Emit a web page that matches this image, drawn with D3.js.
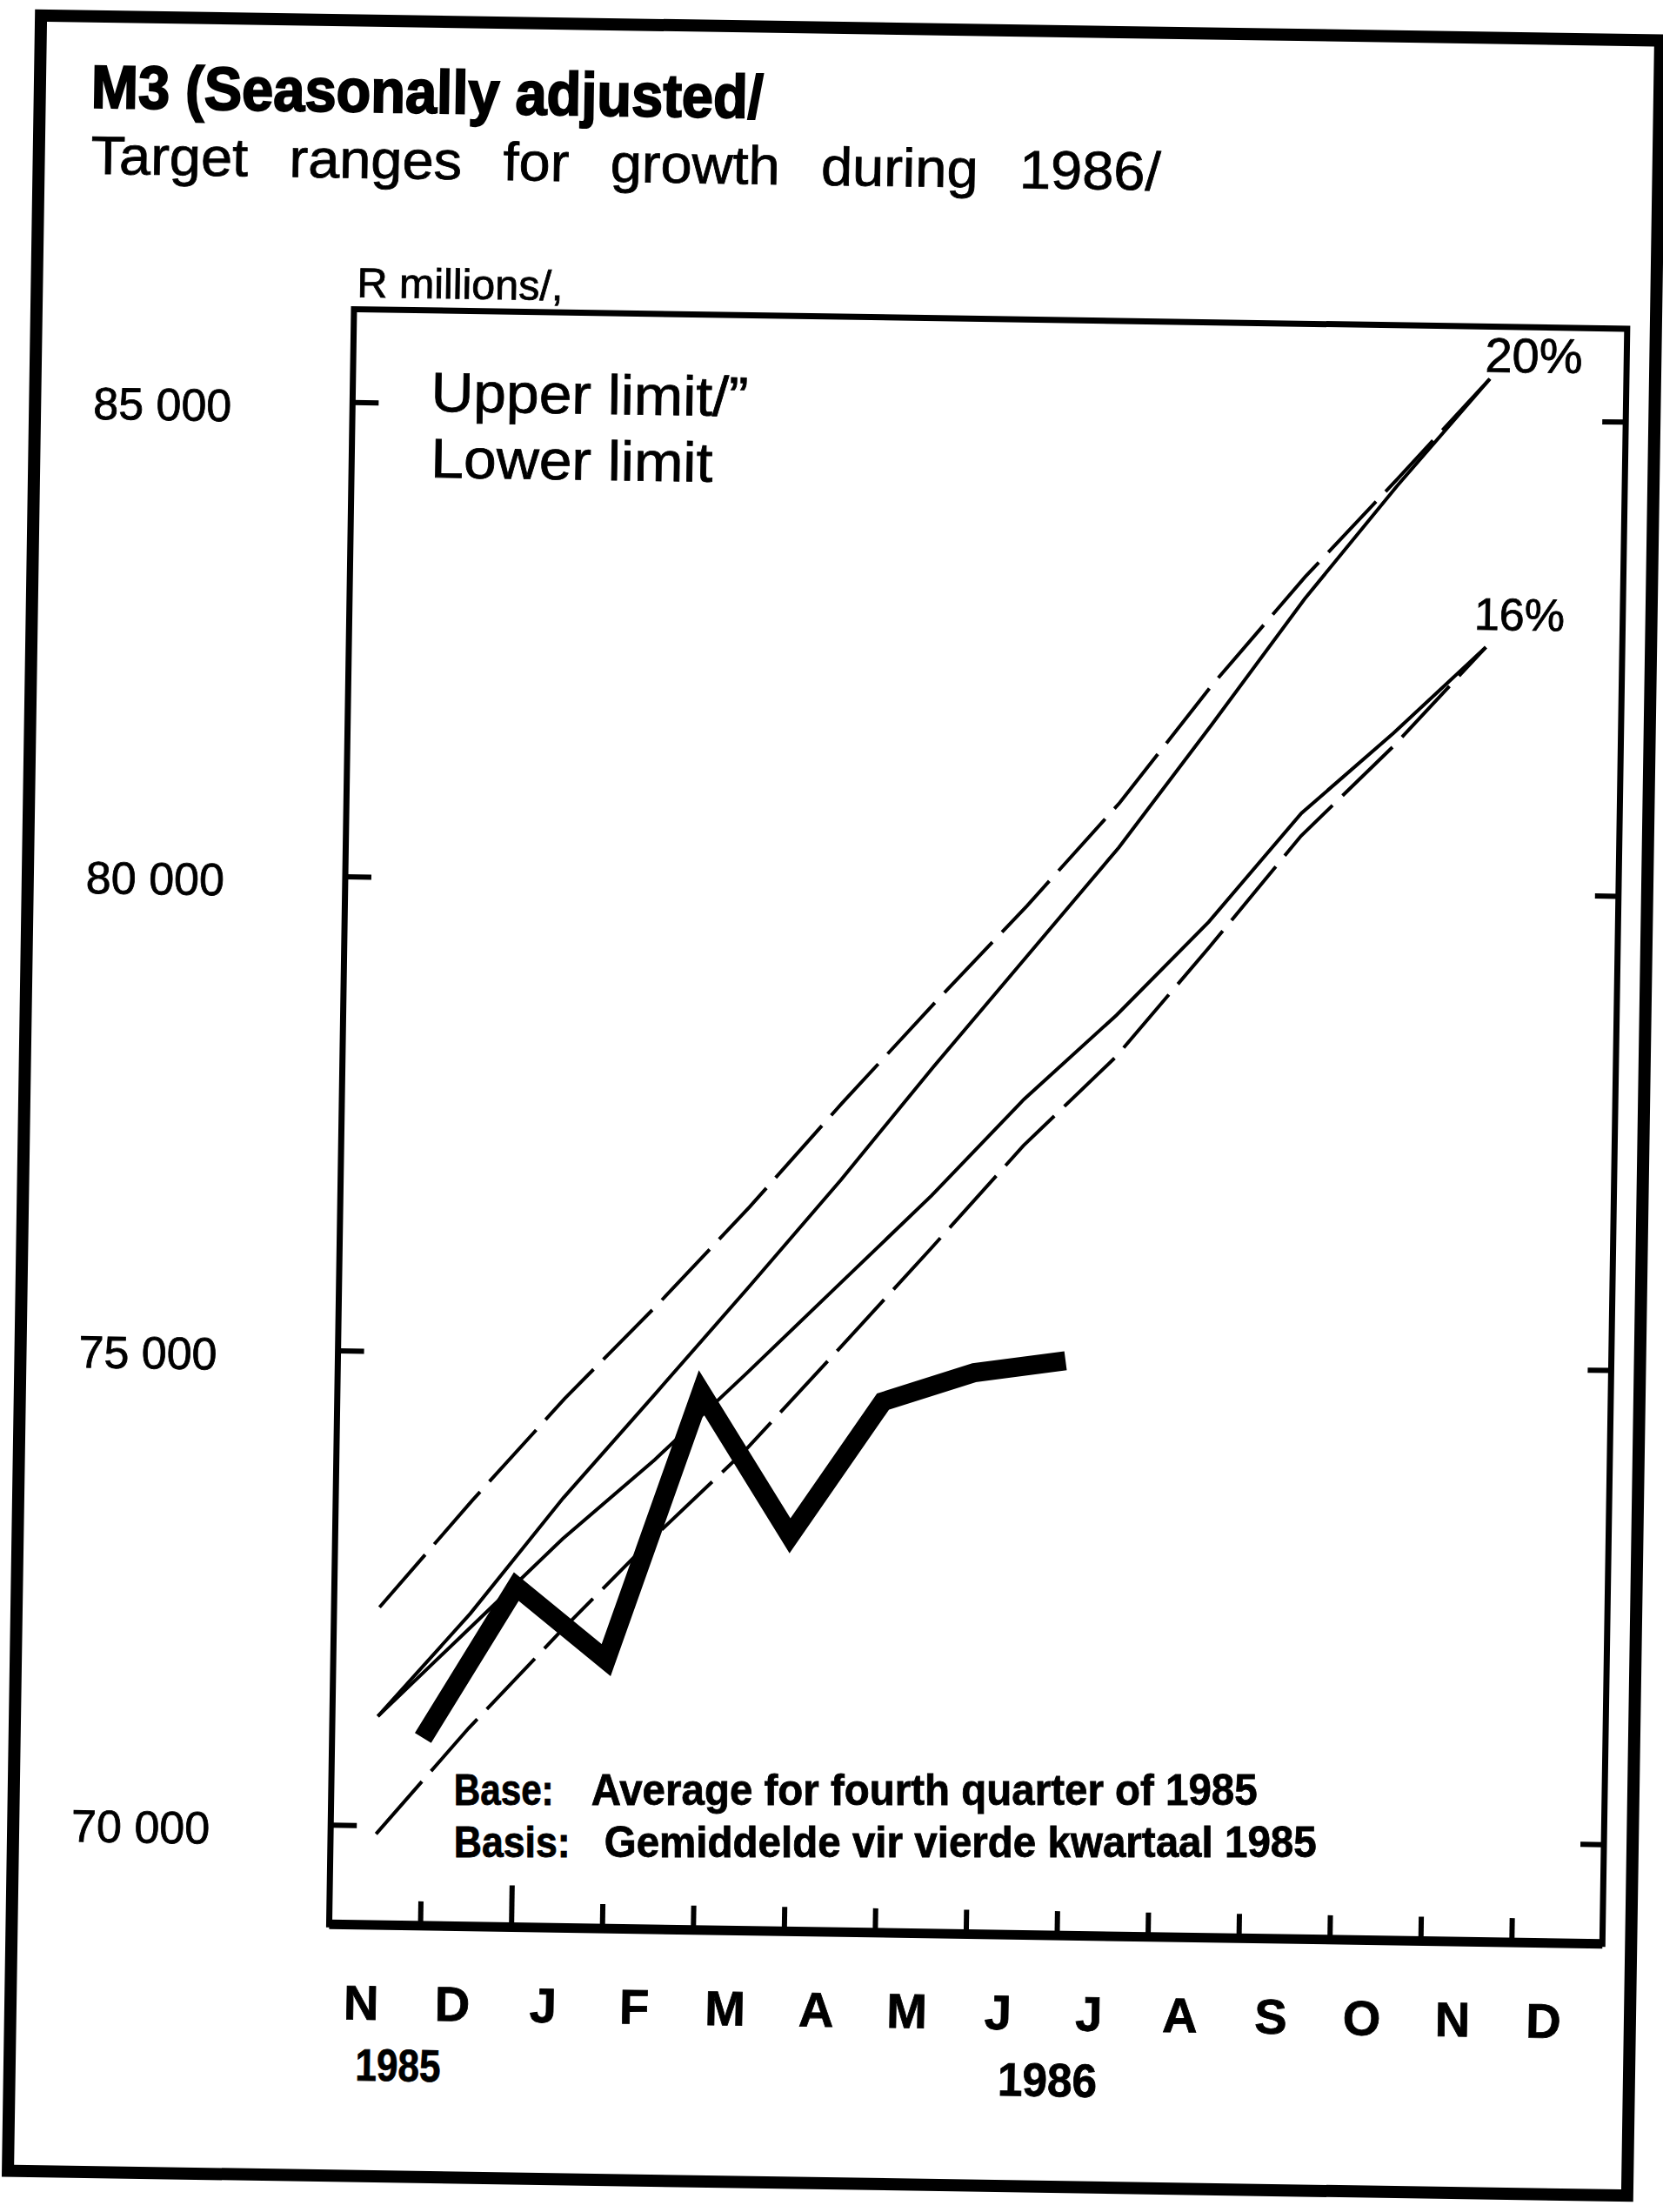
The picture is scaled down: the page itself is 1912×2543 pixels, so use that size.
<!DOCTYPE html>
<html>
<head>
<meta charset="utf-8">
<script src="https://cdn.jsdelivr.net/npm/d3@7"></script>
<style>
  body { margin: 0; background: #fff; }
  svg { display: block; }
  text { font-family: "Liberation Sans", Arial, Helvetica, sans-serif; fill: #000; stroke: #000; stroke-width: 0.8px; }
</style>
</head>
<body>
<script>
// Month labels along the bottom, Nov 1985 .. Dec 1986
const months = ["N", "D", "J", "F", "M", "A", "M", "J", "J", "A", "S", "O", "N", "D"];
const monthKeys = ["Nov 1985", "Dec 1985", "Jan 1986", "Feb 1986", "Mar 1986", "Apr 1986", "May 1986",
                   "Jun 1986", "Jul 1986", "Aug 1986", "Sep 1986", "Oct 1986", "Nov 1986", "Dec 1986"];
const yTicks = [70000, 75000, 80000, 85000];

// Target corridor, mid-month values (R millions), base = Q4 1985 average
const targetMonths = ["Nov 1985", "Dec 1985", "Jan 1986", "Feb 1986", "Mar 1986", "Apr 1986", "May 1986",
                      "Jun 1986", "Jul 1986", "Aug 1986", "Sep 1986", "Oct 1986", "Nov 1986"];
const upper20     = [71150, 72250, 73480, 74600, 75730, 76880, 78090, 79260, 80430, 81740, 83080, 84290, 85430];
const upperDashed = [72300, 73440, 74530, 75530, 76580, 77690, 78760, 79800, 80900, 82160, 83310, 84360, 85430];
const lower16     = [71150, 72100, 73050, 73900, 74830, 75780, 76730, 77760, 78660, 79660, 80820, 81680, 82600];
const lowerDashed = [69910, 71040, 72080, 73080, 74020, 75090, 76170, 77270, 78220, 79380, 80580, 81540, 82600];

// Actual M3, month-end values (R millions)
const m3Months = ["Nov 1985", "Dec 1985", "Jan 1986", "Feb 1986", "Mar 1986", "Apr 1986", "May 1986", "Jun 1986"];
const m3Values = [70930, 72540, 71780, 74620, 73120, 74550, 74870, 75010];

const W = 1912, H = 2543;
const x0 = 393, x1 = 1857, y0 = 364, y1 = 2221;

const svg = d3.select("body").append("svg")
  .attr("width", W)
  .attr("height", H);

svg.append("rect").attr("width", W).attr("height", H).attr("fill", "#fff");

// the printed page is a little tilted
const tilt = 0.88, cx = 956, cy = 1271;
const g = svg.append("g").attr("transform", `rotate(${tilt}, ${cx}, ${cy})`);
// where a point of the untilted layout ends up on the page
function tilted(px, py) {
  const a = tilt * Math.PI / 180;
  const dx = px - cx, dy = py - cy;
  return [cx + dx * Math.cos(a) - dy * Math.sin(a), cy + dx * Math.sin(a) + dy * Math.cos(a)];
}

const x = d3.scaleLinear().domain([0, months.length]).range([x0, x1]);
const y = d3.scaleLinear().domain([68950, 85980]).range([y1, y0]);

const idx = k => monthKeys.indexOf(k);

// outer frame
g.append("rect")
  .attr("x", 28).attr("y", 32)
  .attr("width", 1862).attr("height", 2478)
  .attr("fill", "none").attr("stroke", "#000").attr("stroke-width", 14);

// titles
g.append("text")
  .attr("x", 87).attr("y", 137)
  .attr("font-size", 70).attr("font-weight", "bold")
  .style("stroke-width", "2px")
  .attr("textLength", 773).attr("lengthAdjust", "spacingAndGlyphs")
  .text("M3 (Seasonally adjusted/");

g.append("text")
  .attr("x", 88).attr("y", 213)
  .attr("font-size", 62)
  .style("word-spacing", "28px")
  .attr("textLength", 1230).attr("lengthAdjust", "spacingAndGlyphs")
  .text("Target ranges for growth during 1986/");

g.append("text")
  .attr("x", 396).attr("y", 350)
  .attr("font-size", 48)
  .attr("textLength", 237).attr("lengthAdjust", "spacingAndGlyphs")
  .text("R millions/,");

// plot box
g.append("rect")
  .attr("x", x0).attr("y", y0)
  .attr("width", x1 - x0).attr("height", y1 - y0)
  .attr("fill", "none").attr("stroke", "#000").attr("stroke-width", 7);
g.append("line")
  .attr("x1", x0).attr("x2", x1).attr("y1", y1).attr("y2", y1)
  .attr("stroke", "#000").attr("stroke-width", 11);

// y axes
const fmt = d3.formatLocale({ decimal: ".", thousands: " ", grouping: [3], currency: ["", ""] }).format(",");

g.append("g")
  .attr("transform", `translate(${x0},0)`)
  .call(d3.axisLeft(y).tickValues(yTicks).tickSizeInner(-30).tickSizeOuter(0).tickPadding(139).tickFormat(fmt))
  .call(a => a.select(".domain").remove())
  .call(a => a.selectAll("line").attr("stroke", "#000").attr("stroke-width", 6))
  .call(a => a.selectAll("text").attr("font-size", 52).attr("dy", "0.45em").attr("fill", "#000"));

g.append("g")
  .attr("transform", `translate(${x1},0)`)
  .call(d3.axisRight(y).tickValues(yTicks).tickSizeInner(-27).tickSizeOuter(0).tickFormat(""))
  .call(a => a.select(".domain").remove())
  .call(a => a.selectAll("line").attr("stroke", "#000").attr("stroke-width", 6));

// x axis: month boundaries
g.append("g")
  .attr("transform", `translate(0,${y1})`)
  .call(d3.axisBottom(x).tickValues(d3.range(1, months.length)).tickSizeInner(-28).tickSizeOuter(0).tickFormat(""))
  .call(a => a.select(".domain").remove())
  .call(a => a.selectAll("line").attr("stroke", "#000").attr("stroke-width", 6))
  .call(a => a.selectAll(".tick line").filter(d => d === idx("Jan 1986")).attr("y2", -48));

g.append("g").selectAll("text")
  .data(months)
  .join("text")
  .attr("x", (d, i) => x(i + 0.5) - 14)
  .attr("y", 2330)
  .attr("text-anchor", "middle")
  .attr("font-size", 56).attr("font-weight", "bold")
  .text(d => d);

g.append("text")
  .attr("x", x(idx("Nov 1985") + 0.78)).attr("y", 2400)
  .attr("text-anchor", "middle")
  .attr("font-size", 52).attr("font-weight", "bold")
  .attr("textLength", 98).attr("lengthAdjust", "spacingAndGlyphs")
  .text("1985");
g.append("text")
  .attr("x", x(idx("Jul 1986") - 0.08)).attr("y", 2406)
  .attr("text-anchor", "middle")
  .attr("font-size", 54).attr("font-weight", "bold")
  .attr("textLength", 114).attr("lengthAdjust", "spacingAndGlyphs")
  .text("1986");

// target lines
const line = d3.line().x(d => x(d.t)).y(d => y(d.v));
const mid = vals => targetMonths.map((k, i) => ({ t: idx(k) + 0.5, v: vals[i] }));

const series = [
  { vals: upperDashed, dash: "80,16" },
  { vals: upper20, dash: null },
  { vals: lower16, dash: null },
  { vals: lowerDashed, dash: "80,16" }
];

g.append("g").selectAll("path")
  .data(series)
  .join("path")
  .attr("d", d => line(mid(d.vals)))
  .attr("fill", "none")
  .attr("stroke", "#000")
  .attr("stroke-width", 4)
  .attr("stroke-dasharray", d => d.dash);

// percentage labels at the line ends
const last = targetMonths.length - 1;
g.append("text")
  .attr("x", x(idx(targetMonths[last]) + 0.5) - 6)
  .attr("y", y(upper20[last]) - 8)
  .attr("font-size", 56)
  .text("20%");
g.append("text")
  .attr("x", x(idx(targetMonths[last]) + 0.5) - 14)
  .attr("y", y(lower16[last]) - 20)
  .attr("font-size", 52)
  .text("16%");

// actual M3
g.append("path")
  .datum(m3Months.map((k, i) => ({ t: idx(k) + 1, v: m3Values[i] })))
  .attr("d", line)
  .attr("fill", "none")
  .attr("stroke", "#000")
  .attr("stroke-width", 22)
  .attr("stroke-linejoin", "miter");

// legend text
g.append("text").attr("x", 483).attr("y", 480).attr("font-size", 64)
  .attr("textLength", 365).attr("lengthAdjust", "spacingAndGlyphs").text("Upper limit/\u201D");
g.append("text").attr("x", 484).attr("y", 556).attr("font-size", 64)
  .attr("textLength", 324).attr("lengthAdjust", "spacingAndGlyphs").text("Lower limit");

// base note: kept level so the two long lines do not collide
const [nx, ny] = tilted(534, 2076);
const note = svg.append("g")
  .attr("transform", `translate(${nx},${ny + 6})`)
  .attr("font-weight", "bold").attr("font-size", 50).style("stroke-width", "1.4px");
note.append("text").attr("x", 0).attr("y", 0)
  .attr("textLength", 115).attr("lengthAdjust", "spacingAndGlyphs").text("Base:");
note.append("text").attr("x", 158).attr("y", 0)
  .attr("textLength", 766).attr("lengthAdjust", "spacingAndGlyphs").text("Average for fourth quarter of 1985");
note.append("text").attr("x", 0).attr("y", 60)
  .attr("textLength", 134).attr("lengthAdjust", "spacingAndGlyphs").text("Basis:");
note.append("text").attr("x", 173).attr("y", 60)
  .attr("textLength", 819).attr("lengthAdjust", "spacingAndGlyphs").text("Gemiddelde vir vierde kwartaal 1985");
</script>
</body>
</html>
